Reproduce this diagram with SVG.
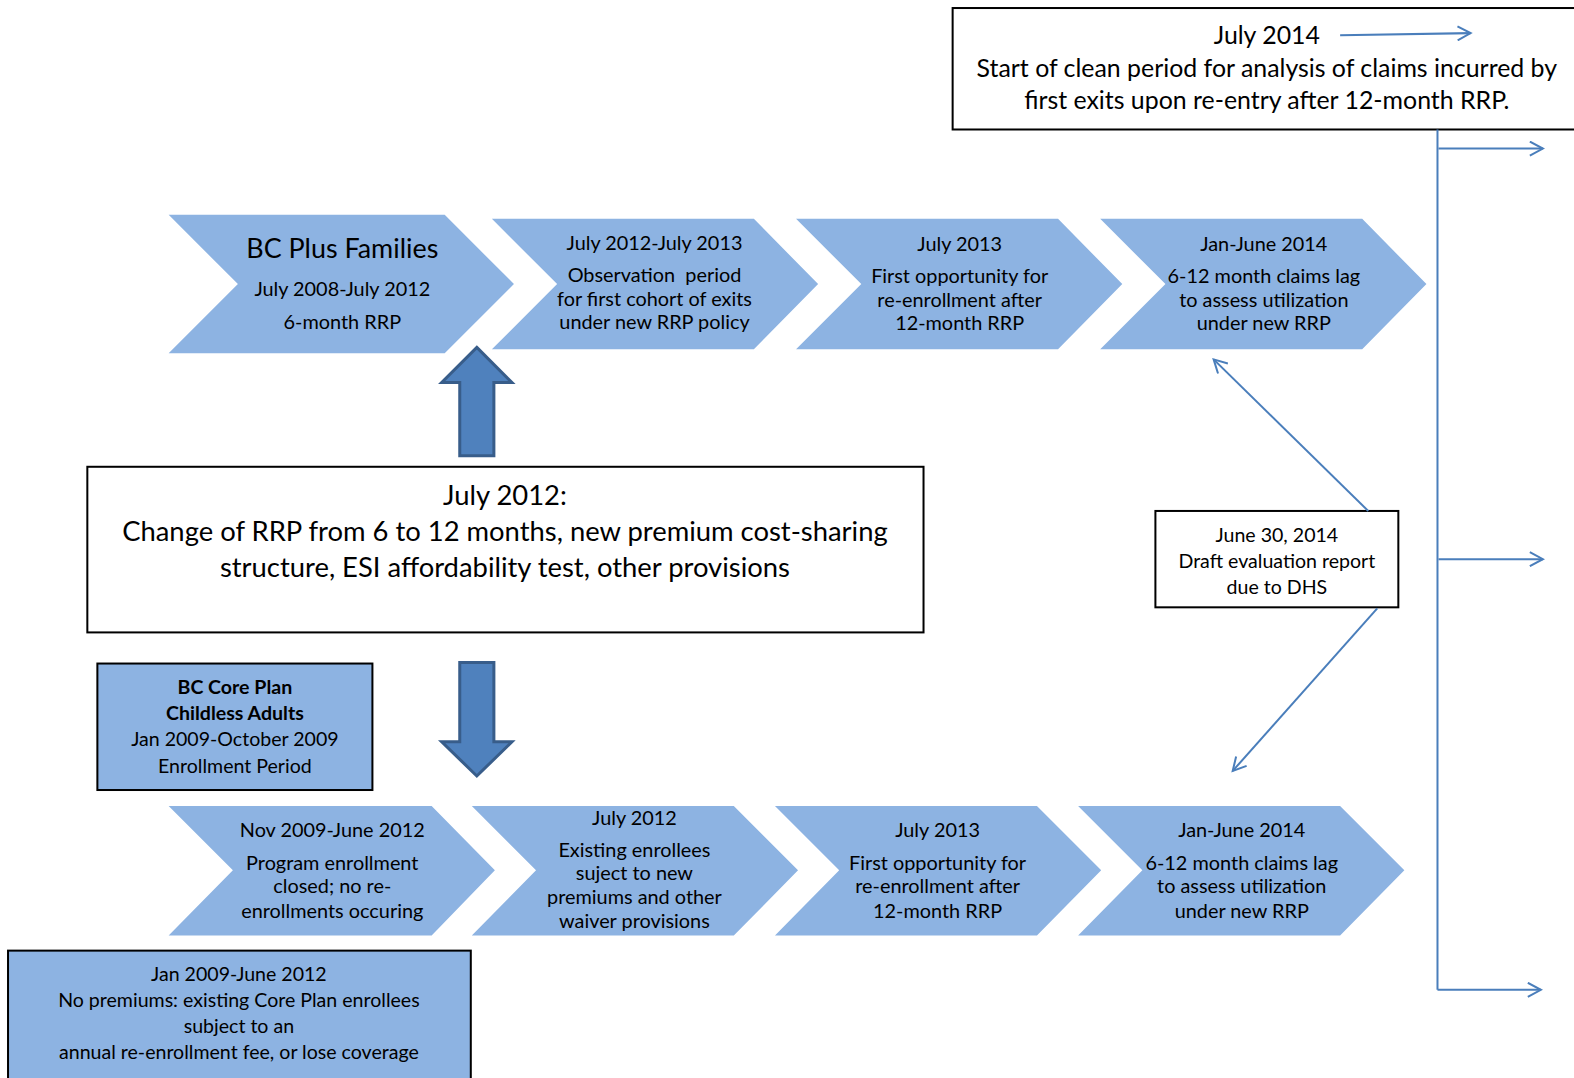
<svg xmlns="http://www.w3.org/2000/svg" width="1574" height="1078" viewBox="0 0 1574 1078">
<defs>
<style>
text{font-family:Lato,"Open Sans","Liberation Sans",sans-serif;fill:#000;text-anchor:middle}
.chev{fill:#8db3e2}
.box{fill:#fff;stroke:#000;stroke-width:2}
.bbox{fill:#8db3e2;stroke:#000;stroke-width:2}
.conn{stroke:#4a7ebb;stroke-width:2;fill:none}
.blk{fill:#4f81bd;stroke:#385d8a;stroke-width:3}
.t19{font-size:19.8px}
.t18{font-size:19.5px}
.tb{font-size:24.8px}
.tm{font-size:27.3px}
</style>
<marker id="oa" markerWidth="16" markerHeight="16" refX="14" refY="8" orient="auto" markerUnits="userSpaceOnUse">
<path d="M1,1 L14,8 L1,15" fill="none" stroke="#4a7ebb" stroke-width="2"/>
</marker>
</defs>
<rect width="1574" height="1078" fill="#fff"/>
<g transform="scale(1.00383)">

<g id="node-july2014">
<rect class="box" x="949" y="8" width="630" height="121"/>
<text class="tb" x="1262" y="44">July 2014</text>
<text class="tb" x="1262" y="77">Start of clean period for analysis of claims incurred by</text>
<text class="tb" x="1262" y="109">first exits upon re-entry after 12-month RRP.</text>
</g>

<g id="node-bcplus">
<polygon class="chev" points="168,214 443,214 512,283 443,352 168,352 237,283"/>
<text x="341" y="257" font-size="26.8">BC Plus Families</text>
<text class="t19" x="341" y="295">July 2008-July 2012</text>
<text class="t19" x="341" y="328">6-month RRP</text>
</g>

<g id="node-obs">
<polygon class="chev" points="490,218 751,218 815,283 751,348 490,348 555,283"/>
<text class="t19" x="652" y="249">July 2012-July 2013</text>
<text class="t19" x="652" y="281" xml:space="preserve">Observation  period</text>
<text class="t19" x="652" y="305">for first cohort of exits</text>
<text class="t19" x="652" y="328">under new RRP policy</text>
</g>

<g id="node-top-july2013">
<polygon class="chev" points="793,218 1054,218 1118,283 1054,348 793,348 858,283"/>
<text class="t19" x="956" y="250">July 2013</text>
<text class="t19" x="956" y="282">First opportunity for</text>
<text class="t19" x="956" y="306">re-enrollment after</text>
<text class="t19" x="956" y="329">12-month RRP</text>
</g>

<g id="node-top-jan2014">
<polygon class="chev" points="1096,218 1357,218 1421,283 1357,348 1096,348 1161,283"/>
<text class="t19" x="1259" y="250">Jan-June 2014</text>
<text class="t19" x="1259" y="282">6-12 month claims lag</text>
<text class="t19" x="1259" y="306">to assess utilization</text>
<text class="t19" x="1259" y="329">under new RRP</text>
</g>

<g id="node-up-arrow">
<polygon class="blk" points="475,346 510,381 492,381 492,454 458,454 458,381 440,381"/>
</g>

<g id="node-change">
<rect class="box" x="87" y="465" width="833" height="165"/>
<text class="tm" x="503" y="503">July 2012:</text>
<text class="tm" x="503" y="539">Change of RRP from 6 to 12 months, new premium cost-sharing</text>
<text class="tm" x="503" y="575">structure, ESI affordability test, other provisions</text>
</g>

<g id="node-down-arrow">
<polygon class="blk" points="458,660 492,660 492,739 510,739 475,773 440,739 458,739"/>
</g>

<g id="node-core">
<rect class="bbox" x="97" y="661" width="274" height="126"/>
<text class="t18" x="234" y="691" font-weight="bold">BC Core Plan</text>
<text class="t18" x="234" y="717" font-weight="bold">Childless Adults</text>
<text class="t18" x="234" y="743">Jan 2009-October 2009</text>
<text class="t18" x="234" y="770">Enrollment Period</text>
</g>

<g id="node-nov2009">
<polygon class="chev" points="168,803 430,803 493,867 430,932 168,932 232,867"/>
<text class="t19" x="331" y="834">Nov 2009-June 2012</text>
<text class="t19" x="331" y="867">Program enrollment</text>
<text class="t19" x="331" y="890">closed; no re-</text>
<text class="t19" x="331" y="914">enrollments occuring</text>
</g>

<g id="node-july2012">
<polygon class="chev" points="470,803 731,803 795,867 731,932 470,932 534,867"/>
<text class="t19" x="632" y="822">July 2012</text>
<text class="t19" x="632" y="854">Existing enrollees</text>
<text class="t19" x="632" y="877">suject to new</text>
<text class="t19" x="632" y="901">premiums and other</text>
<text class="t19" x="632" y="924">waiver provisions</text>
</g>

<g id="node-bot-july2013">
<polygon class="chev" points="772,803 1033,803 1097,867 1033,932 772,932 836,867"/>
<text class="t19" x="934" y="834">July 2013</text>
<text class="t19" x="934" y="867">First opportunity for</text>
<text class="t19" x="934" y="890">re-enrollment after</text>
<text class="t19" x="934" y="914">12-month RRP</text>
</g>

<g id="node-bot-jan2014">
<polygon class="chev" points="1074,803 1335,803 1399,867 1335,932 1074,932 1138,867"/>
<text class="t19" x="1237" y="834">Jan-June 2014</text>
<text class="t19" x="1237" y="867">6-12 month claims lag</text>
<text class="t19" x="1237" y="890">to assess utilization</text>
<text class="t19" x="1237" y="914">under new RRP</text>
</g>

<g id="node-nopremiums">
<rect class="bbox" x="8" y="947" width="461" height="140"/>
<text class="t18" x="238" y="977">Jan 2009-June 2012</text>
<text class="t18" x="238" y="1003">No premiums: existing Core Plan enrollees</text>
<text class="t18" x="238" y="1029">subject to an</text>
<text class="t18" x="238" y="1055">annual re-enrollment fee, or lose coverage</text>
</g>

<g id="node-june30">
<rect class="box" x="1151" y="509" width="242" height="96"/>
<text class="t18" x="1272" y="540">June 30, 2014</text>
<text class="t18" x="1272" y="566">Draft evaluation report</text>
<text class="t18" x="1272" y="592">due to DHS</text>
</g>

<g id="connectors">
<line class="conn" x1="1432" y1="129" x2="1432" y2="986"/>
<line class="conn" x1="1335" y1="35" x2="1465" y2="33" marker-end="url(#oa)"/>
<line class="conn" x1="1433" y1="148" x2="1537" y2="148" marker-end="url(#oa)"/>
<line class="conn" x1="1433" y1="557" x2="1537" y2="557" marker-end="url(#oa)"/>
<line class="conn" x1="1432" y1="986" x2="1535" y2="986" marker-end="url(#oa)"/>
<line class="conn" x1="1363" y1="509" x2="1209" y2="358" marker-end="url(#oa)"/>
<line class="conn" x1="1372" y1="606" x2="1228" y2="768" marker-end="url(#oa)"/>
</g>
</g>
</svg>
